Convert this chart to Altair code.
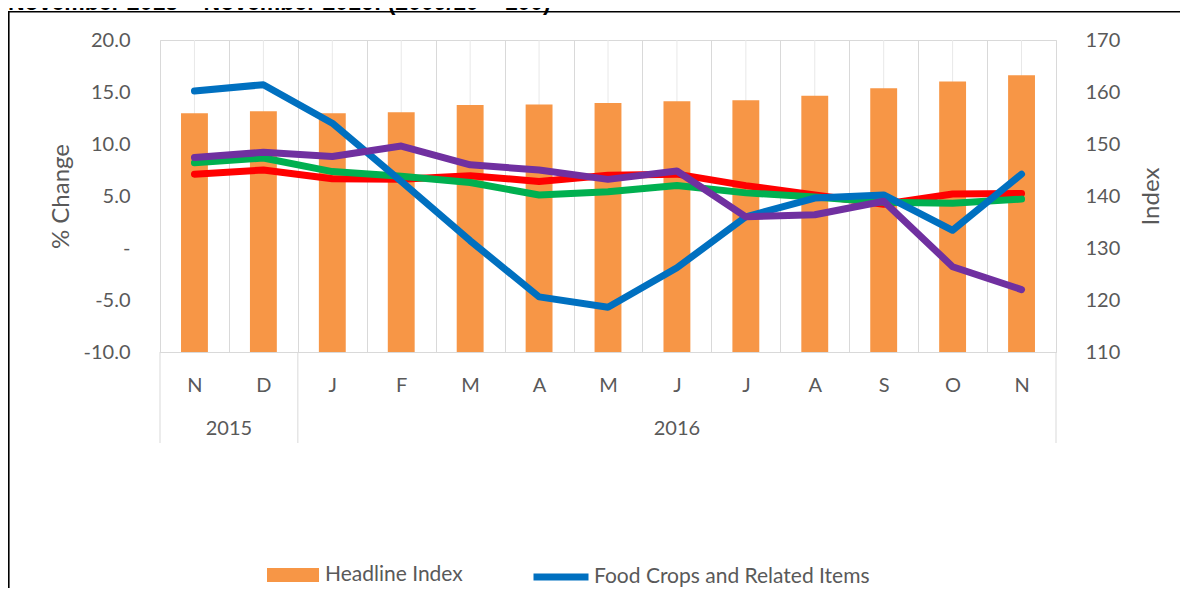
import altair as alt
import pandas as pd

# ---------------- data ----------------
periods = ["Nov 2015", "Dec 2015", "Jan 2016", "Feb 2016", "Mar 2016", "Apr 2016",
           "May 2016", "Jun 2016", "Jul 2016", "Aug 2016", "Sep 2016", "Oct 2016", "Nov 2016"]
years = ["2015", "2016"]
year_first = ["Nov 2015", "Jan 2016"]

bar_name = "Headline Index"
headline_index = [155.9, 156.3, 155.9, 156.1, 157.5, 157.6, 157.9, 158.2, 158.4, 159.3, 160.7, 162.0, 163.2]

food_crops = [15.1, 15.7, 12.0, 6.4, 0.7, -4.7, -5.7, -1.9, 3.0, 4.8, 5.1, 1.7, 7.1]
efu = [8.7, 9.2, 8.8, 9.8, 8.0, 7.5, 6.6, 7.4, 3.0, 3.2, 4.5, -1.8, -4.0]
core = [7.1, 7.5, 6.65, 6.6, 6.95, 6.4, 7.0, 7.1, 6.0, 5.1, 4.2, 5.2, 5.25]
headline_infl = [8.2, 8.65, 7.35, 6.9, 6.3, 5.1, 5.4, 6.0, 5.3, 4.9, 4.4, 4.3, 4.7]

line_names = ["Food Crops and Related Items", "Energy, Fuel and Utilities (EFU)",
              "Core Inflation", "Headline Inflation"]
line_colors = ["#0070C0", "#7030A0", "#FF0000", "#00B050"]
line_values = {
    "Food Crops and Related Items": food_crops,
    "Energy, Fuel and Utilities (EFU)": efu,
    "Core Inflation": core,
    "Headline Inflation": headline_infl,
}
draw_order = ["Core Inflation", "Headline Inflation", "Food Crops and Related Items",
              "Energy, Fuel and Utilities (EFU)"]

title_text = "November 2015 \u2013 November 2016: (2009/10 = 100)"

bars_df = pd.DataFrame({"period": periods, "index": headline_index, "series": bar_name})
lines_df = pd.concat(
    [pd.DataFrame({"period": periods, "pct": line_values[n], "series": n}) for n in draw_order],
    ignore_index=True,
)
years_df = pd.DataFrame({"period": year_first, "year": years})

# ---------------- styling ----------------
W, H = 896, 312
FONT = "Lato"
GREY = "#595959"
MAJOR = "#d9d9d9"
MINOR = "#e8e8e8"

x_scale = alt.Scale(type="band", domain=periods, paddingInner=0, paddingOuter=0)
x_axis = alt.Axis(
    title=None,
    labelExpr="isString(datum.value) ? substring(datum.value, 0, 1) : ''",
    labelAngle=0, tickBand="extent", grid=True, gridColor=MAJOR, ticks=False,
    domainColor=MAJOR, labelFont=FONT, labelFontSize=20, labelColor=GREY,
    labelPadding=23,
)


def xenc(**kw):
    return alt.X("period:N", scale=x_scale, axis=x_axis, **kw)


left_axis = alt.Axis(
    orient="left", values=list(range(-10, 21)), labelOverlap=False,
    labelExpr="datum.value % 5 === 0 ? (datum.value === 0 ? '-' : replace(format(datum.value, '.1f'), '\u2212', '-')) : ''",
    gridColor={"condition": {"test": "datum.value % 5 === 0", "value": MAJOR}, "value": MINOR},
    ticks=False, domain=False, labelFont=FONT, labelFontSize=20, labelColor=GREY,
    labelPadding=30, title="% Change", titleFont=FONT, titleFontSize=24,
    titleFontWeight="normal", titleColor=GREY, titlePadding=10,
)
right_axis = alt.Axis(
    orient="right", values=[110, 120, 130, 140, 150, 160, 170], grid=False,
    ticks=False, domain=False, labelFont=FONT, labelFontSize=20, labelColor=GREY,
    labelPadding=29, title="Index", titleFont=FONT, titleFontSize=24,
    titleFontWeight="normal", titleColor=GREY, titlePadding=44, titleAngle=270,
)

# minor vertical gridlines at category centres
minor_v = alt.Chart(bars_df).mark_rule(color=MINOR, strokeWidth=1).encode(
    x=xenc(bandPosition=0.5)
)

bars = alt.Chart(bars_df).mark_bar(width={"band": 0.39}).encode(
    x=xenc(),
    y=alt.Y("index:Q", scale=alt.Scale(domain=[110, 170], nice=False, zero=False), axis=right_axis),
    y2=alt.datum(110),
    fill=alt.Fill(
        "series:N", scale=alt.Scale(domain=[bar_name], range=["#F79646"]),
        legend=alt.Legend(
            orient="none", legendX=107, legendY=509, title=None, padding=0,
            symbolType="M-1,-0.27L1,-0.27L1,0.27L-1,0.27Z", symbolSize=2704,
            symbolStrokeWidth=0, symbolOpacity=1, labelFont=FONT, labelFontSize=21,
            labelColor=GREY, labelOffset=6, labelLimit=600,
        ),
    ),
)

lines = alt.Chart(lines_df).mark_line(strokeWidth=7, strokeCap="round", strokeJoin="round").encode(
    x=xenc(bandPosition=0.5),
    y=alt.Y("pct:Q", scale=alt.Scale(domain=[-10, 20], nice=False, zero=False), axis=left_axis),
    stroke=alt.Stroke(
        "series:N", scale=alt.Scale(domain=line_names, range=line_colors),
        legend=alt.Legend(
            orient="none", legendX=370, legendY=506, title=None, padding=0,
            symbolType="stroke", symbolSize=3025, symbolStrokeWidth=7,
            labelFont=FONT, labelFontSize=21, labelColor=GREY, labelOffset=2,
            labelLimit=600, rowPadding=20,
        ),
    ),
)

# dividers under the category axis
dividers = alt.Chart(years_df).mark_rule(color=MAJOR, strokeWidth=1).encode(
    x=xenc(bandPosition=0), y=alt.value(H), y2=alt.value(403)
)
divider_end = alt.Chart(alt.Data(values=[{}])).mark_rule(color=MAJOR, strokeWidth=1).encode(
    x=alt.XDatum(datum=periods[-1], scale=x_scale, axis=x_axis, bandPosition=1),
    y=alt.value(H), y2=alt.value(403),
)

year_2015 = alt.Chart(alt.Data(values=[{}])).mark_text(
    text=years[0], font=FONT, fontSize=20, color=GREY, align="center", baseline="middle"
).encode(x=alt.XDatum(datum=periods[1], scale=x_scale, axis=x_axis, bandPosition=0), y=alt.value(389))
year_2016 = alt.Chart(alt.Data(values=[{}])).mark_text(
    text=years[1], font=FONT, fontSize=20, color=GREY, align="center", baseline="middle"
).encode(x=alt.XDatum(datum=periods[7], scale=x_scale, axis=x_axis, bandPosition=0.5), y=alt.value(389))

# outer frame and (cut-off) title
frame_top = alt.Chart(alt.Data(values=[{}])).mark_rule(color="#000000", strokeWidth=1.6).encode(
    x=alt.value(-152), x2=alt.value(1030), y=alt.value(-28.2)
)
frame_left = alt.Chart(alt.Data(values=[{}])).mark_rule(color="#000000", strokeWidth=1.6).encode(
    x=alt.value(-151.2), y=alt.value(-29), y2=alt.value(600)
)
title = alt.Chart(alt.Data(values=[{}])).mark_text(
    text=title_text, font="Liberation Sans", fontSize=23, fontWeight="bold",
    color="#000000", align="left", baseline="alphabetic"
).encode(x=alt.value(-152), y=alt.value(-30))

chart = alt.layer(
    minor_v, bars, lines, dividers, divider_end, year_2015, year_2016,
    frame_top, frame_left, title,
).resolve_scale(y="independent").properties(
    width=W, height=H, autosize="none",
    padding={"left": 152, "top": 32, "right": 124, "bottom": 236},
).configure_view(stroke=MAJOR)

chart.save("out.html", embed_options={"renderer": "svg", "actions": False})
